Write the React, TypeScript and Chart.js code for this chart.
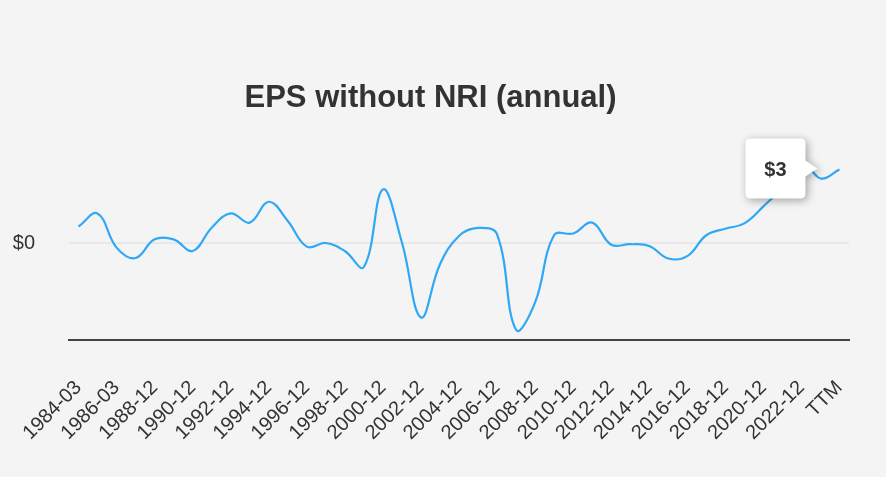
import React, { useEffect, useRef } from "react";
import { Chart, registerables } from "chart.js";

Chart.register(...registerables);

const categories: string[] = [
  "1984-03", "1985-03", "1986-03", "1987-03", "1988-12", "1989-12", "1990-12", "1991-12",
  "1992-12", "1993-12", "1994-12", "1995-12", "1996-12", "1997-12", "1998-12", "1999-12",
  "2000-12", "2001-12", "2002-12", "2003-12", "2004-12", "2005-12", "2006-12", "2007-12",
  "2008-12", "2009-12", "2010-12", "2011-12", "2012-12", "2013-12", "2014-12", "2015-12",
  "2016-12", "2017-12", "2018-12", "2019-12", "2020-12", "2021-12", "2022-12", "2023-12", "TTM",
];

const epsWithoutNri: number[] = [
  0.68, 1.22, -0.19, -0.62, 0.15, 0.15, -0.33, 0.63, 1.22, 0.84, 1.7, 0.91, -0.15, 0.0,
  -0.33, -0.99, 2.21, 0.02, -3.07, -0.88, 0.29, 0.62, 0.36, -3.58, -2.45, 0.33, 0.39, 0.84,
  -0.07, -0.05, -0.12, -0.64, -0.54, 0.32, 0.59, 0.81, 1.51, 2.3, 3.4, 2.66, 3.03,
];

const yTickValues: number[] = [0];
const titleText = "EPS without NRI (annual)";

const FONT = "'Liberation Sans', Arial, Helvetica, sans-serif";

export default function App() {
  const ref = useRef<HTMLCanvasElement | null>(null);

  useEffect(() => {
    document.body.style.margin = "0";
    document.body.style.background = "#f4f4f4";
    const canvas = ref.current;
    if (!canvas) return;

    const bgPlugin = {
      id: "bg",
      beforeDraw(chart: any) {
        const { ctx, width, height } = chart;
        ctx.save();
        ctx.fillStyle = "#f4f4f4";
        ctx.fillRect(0, 0, width, height);
        ctx.restore();
      },
    };

    const titlePlugin = {
      id: "customTitle",
      afterDraw(chart: any) {
        const { ctx } = chart;
        ctx.save();
        ctx.font = `bold 31px ${FONT}`;
        ctx.fillStyle = "#333333";
        ctx.textAlign = "center";
        ctx.textBaseline = "alphabetic";
        ctx.fillText(titleText, 430.5, 107);
        ctx.restore();
      },
    };

    const calloutPlugin = {
      id: "callout",
      afterDatasetsDraw(chart: any) {
        const { ctx } = chart;
        const xs = chart.scales.x;
        const ys = chart.scales.y;
        const idx = epsWithoutNri.length - 1;
        const val = epsWithoutNri[idx];
        const px = xs.getPixelForValue(idx);
        const py = ys.getPixelForValue(val);
        const tipX = px - 22;
        const tipY = py - 1;
        const caretLen = 12;
        const caretHalf = 8;
        const w = 60;
        const h = 60;
        const r = 5;
        const right = tipX - caretLen;
        const left = right - w;
        const top = tipY - h / 2;
        const bottom = top + h;
        ctx.save();
        ctx.shadowColor = "rgba(0,0,0,0.35)";
        ctx.shadowBlur = 8;
        ctx.shadowOffsetX = 2;
        ctx.shadowOffsetY = 2;
        ctx.fillStyle = "#ffffff";
        ctx.beginPath();
        ctx.moveTo(left + r, top);
        ctx.lineTo(right - r, top);
        ctx.quadraticCurveTo(right, top, right, top + r);
        ctx.lineTo(right, tipY - caretHalf);
        ctx.lineTo(tipX, tipY);
        ctx.lineTo(right, tipY + caretHalf);
        ctx.lineTo(right, bottom - r);
        ctx.quadraticCurveTo(right, bottom, right - r, bottom);
        ctx.lineTo(left + r, bottom);
        ctx.quadraticCurveTo(left, bottom, left, bottom - r);
        ctx.lineTo(left, top + r);
        ctx.quadraticCurveTo(left, top, left + r, top);
        ctx.closePath();
        ctx.fill();
        ctx.shadowColor = "transparent";
        ctx.font = `bold 20px ${FONT}`;
        ctx.fillStyle = "#333333";
        ctx.textAlign = "center";
        ctx.textBaseline = "middle";
        ctx.fillText("$" + Math.round(val), (left + right) / 2, tipY + 2);
        ctx.restore();
      },
    };

    const chart = new Chart(canvas, {
      type: "line",
      data: {
        labels: categories,
        datasets: [
          {
            data: epsWithoutNri,
            borderColor: "#2fa9f5",
            borderWidth: 2.2,
            pointRadius: 0,
            tension: 0.4,
            fill: false,
          },
        ],
      },
      options: {
        responsive: false,
        animation: false,
        layout: { padding: { top: 146, right: 37, left: 0, bottom: 0 } },
        plugins: {
          legend: { display: false },
          title: { display: false },
          tooltip: { enabled: false },
        },
        scales: {
          x: {
            type: "category",
            offset: true,
            grid: { display: false, drawTicks: false },
            border: { display: true, color: "#444444", width: 2 },
            ticks: {
              autoSkip: false,
              maxRotation: 45,
              minRotation: 45,
              padding: 36,
              color: "#333333",
              font: { family: FONT, size: 20 },
              callback: (_v: any, i: number) => (i % 2 === 0 ? categories[i] : ""),
            },
            afterFit: (s: any) => {
              s.height = 137;
              s.paddingLeft = 0;
              s.paddingRight = 0;
            },
          },
          y: {
            min: -4,
            max: 4,
            grid: { color: "#e8e8e8", lineWidth: 2, drawTicks: false },
            border: { display: false },
            ticks: {
              padding: 34,
              color: "#333333",
              font: { family: FONT, size: 20 },
              callback: (v: any) => "$" + v,
            },
            afterBuildTicks: (s: any) => {
              s.ticks = yTickValues.map((v) => ({ value: v }));
            },
            afterFit: (s: any) => {
              s.width = 69;
              s.paddingTop = 0;
              s.paddingBottom = 0;
            },
          },
        },
      },
      plugins: [bgPlugin, calloutPlugin, titlePlugin],
    });

    return () => chart.destroy();
  }, []);

  return (
    <div style={{ width: 886, height: 477, background: "#f4f4f4" }}>
      <canvas ref={ref} width={886} height={477} style={{ display: "block" }} />
    </div>
  );
}
